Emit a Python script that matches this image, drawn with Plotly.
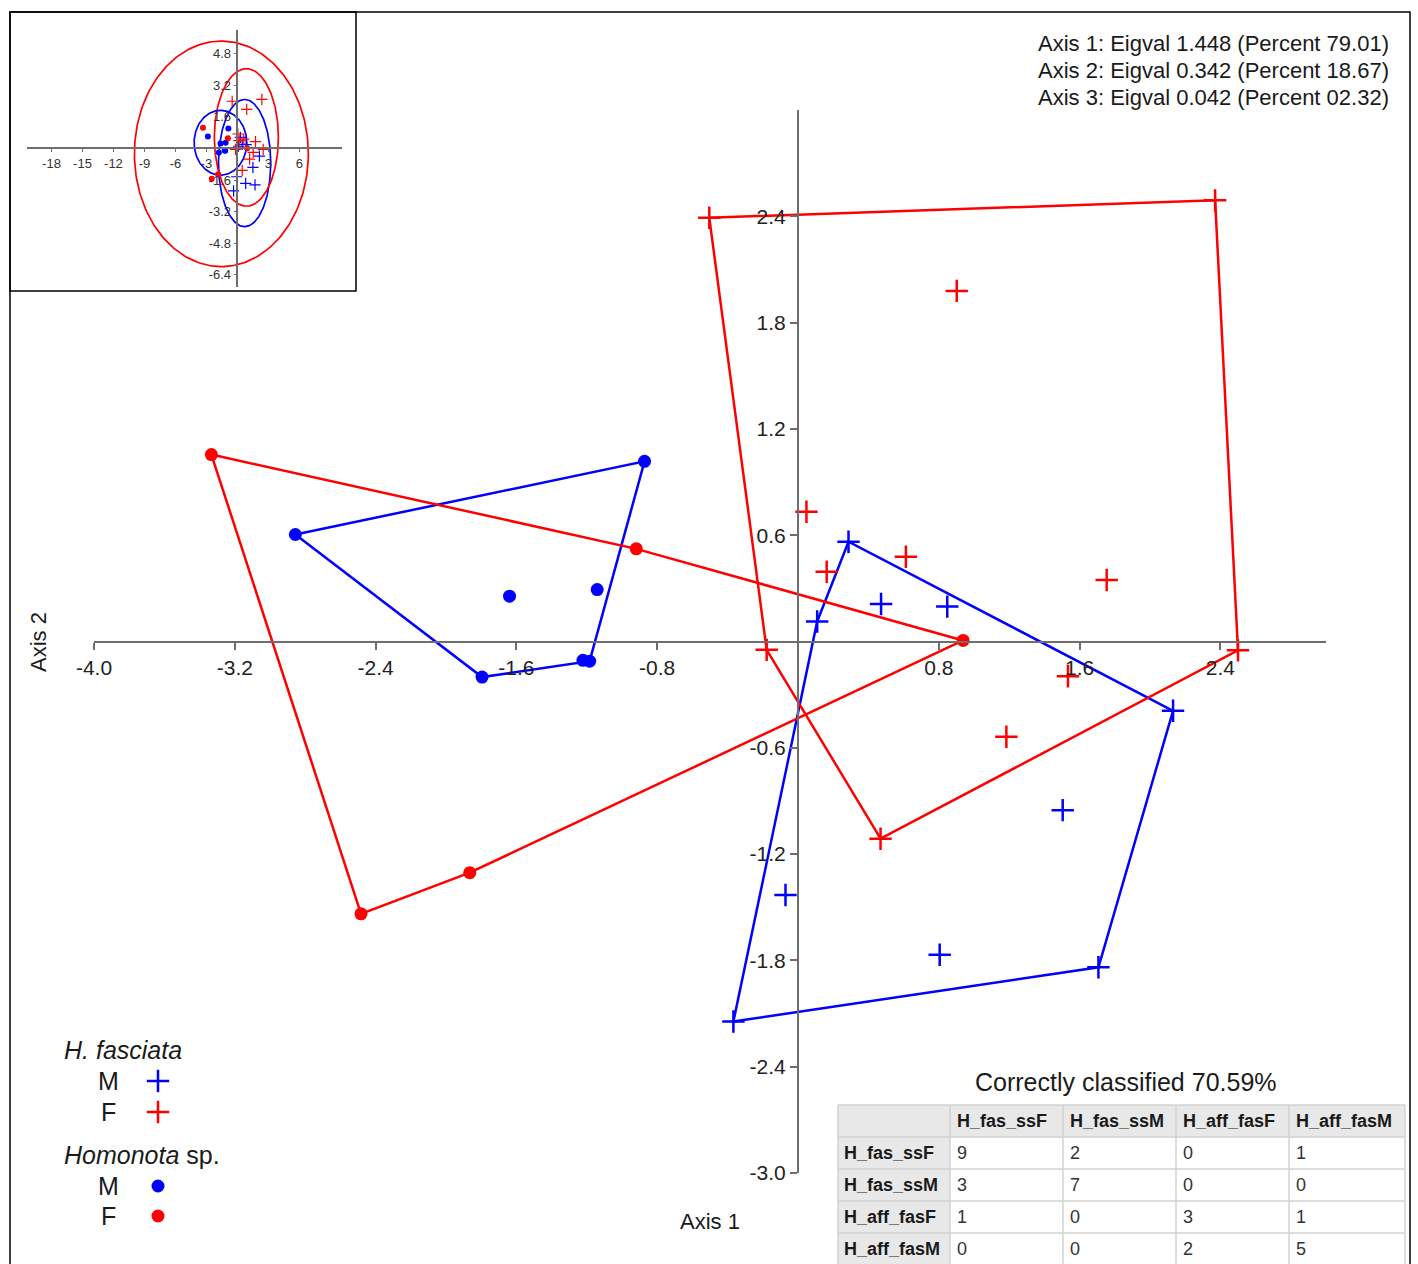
import numpy as np
import plotly.graph_objects as go

# ---------------- data ----------------
# H. fasciata males (blue crosses)
fasM_x = [0.287, 2.131, 1.707, -0.367, 0.109, 0.472, 0.848, 1.504, -0.071, 0.805]
fasM_y = [0.563, -0.391, -1.839, -2.145, 0.113, 0.212, 0.197, -0.952, -1.431, -1.768]
# H. fasciata females (red crosses)
fasF_x = [-0.504, 2.370, 2.500, 0.469, -0.178, 0.902, 0.048, 0.163, 0.613, 1.754, 1.534, 1.184]
fasF_y = [2.392, 2.490, -0.050, -1.113, -0.047, 1.979, 0.732, 0.394, 0.478, 0.347, -0.196, -0.538]
# Homonota sp. males (blue dots)
homM_x = [-2.856, -0.872, -1.639, -1.141, -1.795, -1.222, -1.184]
homM_y = [0.604, 1.017, 0.256, 0.293, -0.201, -0.106, -0.111]
# Homonota sp. females (red dots)
homF_x = [-3.333, -0.919, 0.938, -1.865, -2.483]
homF_y = [1.055, 0.523, 0.006, -1.305, -1.537]

# inset 95% ellipses: fasM, fasF, homM, homF
ell_cx = [0.70, 0.87, -1.64, -1.55]
ell_cy = [-0.74, 0.56, 0.29, -0.27]
ell_rx = [2.53, 3.10, 2.55, 8.42]
ell_ry = [3.22, 3.48, 1.64, 5.71]

main_xticks = [-4.0, -3.2, -2.4, -1.6, -0.8, 0.8, 1.6, 2.4]
main_yticks = [2.4, 1.8, 1.2, 0.6, -0.6, -1.2, -1.8, -2.4, -3.0]
inset_xticks = [-18, -15, -12, -9, -6, -3, 3, 6]
inset_yticks = [4.8, 3.2, 1.6, -1.6, -3.2, -4.8, -6.4]

eig_axes = [1, 2, 3]
eig_vals = ["1.448", "0.342", "0.042"]
eig_pcts = ["79.01", "18.67", "02.32"]

class_names = ["H_fas_ssF", "H_fas_ssM", "H_aff_fasF", "H_aff_fasM"]
confusion = [[9, 2, 0, 1], [3, 7, 0, 0], [1, 0, 3, 1], [0, 0, 2, 5]]
correct_pct = "70.59"

# ---------------- helpers ----------------
W, H = 1418, 1264
BLUE = "rgb(0,0,255)"
RED = "rgb(255,0,0)"
FONT = "Liberation Sans, Arial, sans-serif"
TXT = "#1a1a1a"


def px(x):
    return x / W


def py(y):
    return 1 - y / H


def hull(xs, ys):
    pts = sorted(set(zip(xs, ys)))

    def cross(o, a, b):
        return (a[0] - o[0]) * (b[1] - o[1]) - (a[1] - o[1]) * (b[0] - o[0])

    lower, upper = [], []
    for p in pts:
        while len(lower) >= 2 and cross(lower[-2], lower[-1], p) <= 0:
            lower.pop()
        lower.append(p)
    for p in reversed(pts):
        while len(upper) >= 2 and cross(upper[-2], upper[-1], p) <= 0:
            upper.pop()
        upper.append(p)
    h = lower[:-1] + upper[:-1]
    h.append(h[0])
    return [p[0] for p in h], [p[1] for p in h]


fig = go.Figure()

groups = [
    (fasM_x, fasM_y, BLUE, "cross"),
    (fasF_x, fasF_y, RED, "cross"),
    (homM_x, homM_y, BLUE, "dot"),
    (homF_x, homF_y, RED, "dot"),
]

# hull lines
for gx, gy, col, kind in groups:
    hx, hy = hull(gx, gy)
    fig.add_trace(go.Scatter(x=hx, y=hy, mode="lines", line=dict(color=col, width=2.5),
                             hoverinfo="skip", showlegend=False, xaxis="x", yaxis="y"))
# markers
for gx, gy, col, kind in groups:
    if kind == "cross":
        mk = dict(symbol="cross-thin", size=16, line=dict(color=col, width=2.5), color=col)
    else:
        mk = dict(symbol="circle", size=13, color=col, line=dict(width=0))
    fig.add_trace(go.Scatter(x=gx, y=gy, mode="markers", marker=mk,
                             showlegend=False, xaxis="x", yaxis="y"))

# inset ellipses + points
t = np.linspace(0, 2 * np.pi, 240)
ell_cols = [BLUE, RED, BLUE, RED]
for cx, cy, rx, ry, col in zip(ell_cx, ell_cy, ell_rx, ell_ry, ell_cols):
    fig.add_trace(go.Scatter(x=cx + rx * np.cos(t), y=cy + ry * np.sin(t), mode="lines",
                             line=dict(color=col, width=1.7), hoverinfo="skip",
                             showlegend=False, xaxis="x2", yaxis="y2"))
for gx, gy, col, kind in groups:
    if kind == "cross":
        mk = dict(symbol="cross-thin", size=8, line=dict(color=col, width=1.2), color=col)
    else:
        mk = dict(symbol="circle", size=6, color=col, line=dict(width=0))
    fig.add_trace(go.Scatter(x=gx, y=gy, mode="markers", marker=mk,
                             showlegend=False, xaxis="x2", yaxis="y2"))

# legend swatches (pixel-space helper axis)
leg_sym_x = [158, 158, 158, 158]
leg_sym_y = [1081, 1112, 1186, 1216]
leg_cols = [BLUE, RED, BLUE, RED]
leg_kinds = ["cross", "cross", "dot", "dot"]
for lx, ly, col, kind in zip(leg_sym_x, leg_sym_y, leg_cols, leg_kinds):
    if kind == "cross":
        mk = dict(symbol="cross-thin", size=16, line=dict(color=col, width=2.5), color=col)
    else:
        mk = dict(symbol="circle", size=13, color=col, line=dict(width=0))
    fig.add_trace(go.Scatter(x=[lx], y=[ly], mode="markers", marker=mk,
                             showlegend=False, xaxis="x3", yaxis="y3", hoverinfo="skip"))

# ---------------- axes ----------------
xr, yr = [-4.0, 3.0], [-3.0, 3.0]
xd, yd = [px(94), px(1326)], [py(1173), py(110)]
x_pos = yd[0] + (0 - yr[0]) / (yr[1] - yr[0]) * (yd[1] - yd[0])
y_pos = xd[0] + (0 - xr[0]) / (xr[1] - xr[0]) * (xd[1] - xd[0])

xr2, yr2 = [-20.4, 10.1], [-7.0, 6.0]
xd2, yd2 = [px(26.7), px(341.7)], [py(286.7), py(30)]
x_pos2 = yd2[0] + (0 - yr2[0]) / (yr2[1] - yr2[0]) * (yd2[1] - yd2[0])
y_pos2 = xd2[0] + (0 - xr2[0]) / (xr2[1] - xr2[0]) * (xd2[1] - xd2[0])

AX = "#6e6e6e"
common = dict(showgrid=False, zeroline=False, showline=True, linecolor=AX,
              ticks="outside", tickcolor=AX, automargin=False, fixedrange=True)

fig.update_layout(
    width=W, height=H, margin=dict(l=0, r=0, t=0, b=0),
    paper_bgcolor="white", plot_bgcolor="rgba(0,0,0,0)",
    font=dict(family=FONT, color="#222"),
    showlegend=False,
    xaxis=dict(domain=xd, range=xr, anchor="free", position=x_pos, linewidth=2,
               ticklen=7, tickwidth=1.5, tickvals=main_xticks,
               ticktext=["%.1f" % v for v in main_xticks],
               tickfont=dict(size=21, color="#222"), **common),
    yaxis=dict(domain=yd, range=yr, anchor="free", position=y_pos, side="left", linewidth=2,
               ticklen=7, tickwidth=1.5, tickvals=main_yticks,
               ticktext=["%.1f" % v for v in main_yticks],
               tickfont=dict(size=21, color="#222"), **common),
    xaxis2=dict(domain=xd2, range=xr2, anchor="free", position=x_pos2, linewidth=1.5,
                ticklen=3, tickwidth=1, tickvals=inset_xticks,
                ticktext=[str(v) for v in inset_xticks],
                tickfont=dict(size=13, color="#333"), **common),
    yaxis2=dict(domain=yd2, range=yr2, anchor="free", position=y_pos2, side="left",
                linewidth=1.5, ticklen=3, tickwidth=1, tickvals=inset_yticks,
                ticktext=["%.1f" % v for v in inset_yticks],
                tickfont=dict(size=13, color="#333"), **common),
    xaxis3=dict(domain=[0, 1], range=[0, W], visible=False, anchor="y3", fixedrange=True),
    yaxis3=dict(domain=[0, 1], range=[H, 0], visible=False, anchor="x3", fixedrange=True),
)

shapes = []
# frames
shapes.append(dict(type="rect", xref="paper", yref="paper", x0=px(10), x1=px(1410),
                   y0=py(1275), y1=py(12), line=dict(color="black", width=1.5), layer="below"))
shapes.append(dict(type="rect", xref="paper", yref="paper", x0=px(10), x1=px(356),
                   y0=py(291), y1=py(12), line=dict(color="black", width=1.5), layer="below"))

ann = []
for i, (a, v, p) in enumerate(zip(eig_axes, eig_vals, eig_pcts)):
    ann.append(dict(text="Axis %d: Eigval %s (Percent %s)" % (a, v, p),
                    x=px(1391), y=py(44 + 27 * i), xanchor="right", yanchor="middle",
                    font=dict(size=22, color=TXT)))
ann.append(dict(text="Axis 1", x=px(710), y=py(1221), xanchor="center", yanchor="middle",
                font=dict(size=22, color=TXT)))
ann.append(dict(text="Axis 2", x=px(38), y=py(642), xanchor="center", yanchor="middle",
                textangle=-90, font=dict(size=22, color=TXT)))
ann.append(dict(text="Correctly classified %s%%" % correct_pct, x=px(1126), y=py(1082),
                xanchor="center", yanchor="middle", font=dict(size=25, color=TXT)))
ann.append(dict(text="<i>H. fasciata</i>", x=px(62), y=py(1050), xanchor="left",
                yanchor="middle", font=dict(size=25, color=TXT)))
ann.append(dict(text="<i>Homonota</i> sp.", x=px(62), y=py(1155), xanchor="left",
                yanchor="middle", font=dict(size=25, color=TXT)))
for lab, ly in zip(["M", "F", "M", "F"], leg_sym_y):
    ann.append(dict(text=lab, x=px(108), y=py(ly), xanchor="center", yanchor="middle",
                    font=dict(size=25, color=TXT)))

# ---------------- confusion table (grid of cells) ----------------
col_w = [112, 113, 113, 113, 116]
row_h = 32
tx0, ty0 = 838, 1105
col_edges = [tx0]
for w_ in col_w:
    col_edges.append(col_edges[-1] + w_)
n_rows = len(class_names) + 1
row_edges = [ty0 + row_h * r for r in range(n_rows + 1)]
GRAY = "#e8e8e8"
GRID = "#d2d2d2"
# backgrounds
shapes.append(dict(type="rect", xref="paper", yref="paper", x0=px(col_edges[0]),
                   x1=px(col_edges[-1]), y0=py(row_edges[1]), y1=py(row_edges[0]),
                   fillcolor=GRAY, line=dict(width=0), layer="below"))
shapes.append(dict(type="rect", xref="paper", yref="paper", x0=px(col_edges[0]),
                   x1=px(col_edges[1]), y0=py(row_edges[-1]), y1=py(row_edges[0]),
                   fillcolor=GRAY, line=dict(width=0), layer="below"))
# grid lines
for xe in col_edges:
    shapes.append(dict(type="line", xref="paper", yref="paper", x0=px(xe), x1=px(xe),
                       y0=py(row_edges[-1]), y1=py(row_edges[0]),
                       line=dict(color=GRID, width=1.5)))
for ye in row_edges:
    shapes.append(dict(type="line", xref="paper", yref="paper", x0=px(col_edges[0]),
                       x1=px(col_edges[-1]), y0=py(ye), y1=py(ye),
                       line=dict(color=GRID, width=1.5)))
# texts
for j, name in enumerate(class_names):
    ann.append(dict(text="<b>%s</b>" % name, x=px(col_edges[j + 1] + 5),
                    y=py(row_edges[0] + row_h / 2), xanchor="left", yanchor="middle",
                    font=dict(size=18, color=TXT)))
    ann.append(dict(text="<b>%s</b>" % name, x=px(col_edges[0] + 4),
                    y=py(row_edges[j + 1] + row_h / 2), xanchor="left", yanchor="middle",
                    font=dict(size=18, color=TXT)))
for i in range(len(class_names)):
    for j in range(len(class_names)):
        ann.append(dict(text=str(confusion[i][j]), x=px(col_edges[j + 1] + 5),
                        y=py(row_edges[i + 1] + row_h / 2), xanchor="left",
                        yanchor="middle", font=dict(size=18, color="#333")))

for a in ann:
    a.update(xref="paper", yref="paper", showarrow=False)
fig.update_layout(annotations=ann, shapes=shapes)

fig.write_html("out.html")
